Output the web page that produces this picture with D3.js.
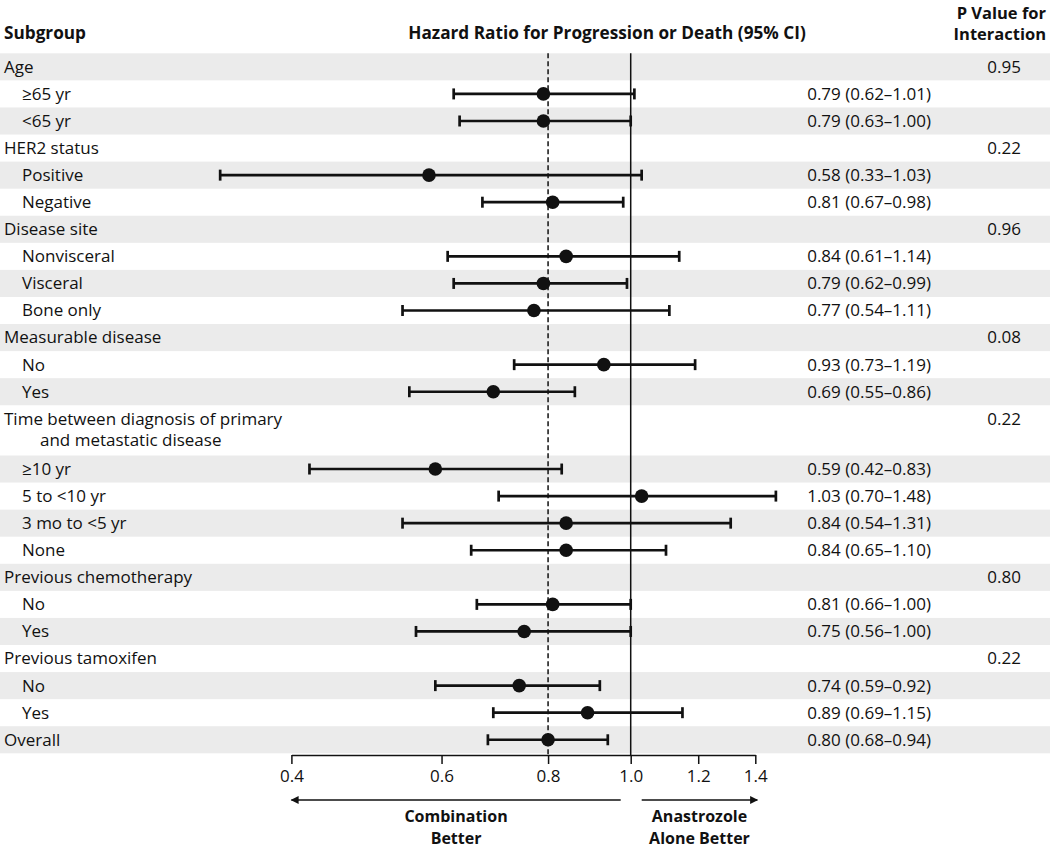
<!DOCTYPE html>
<html>
<head>
<meta charset="utf-8">
<script src="https://cdn.jsdelivr.net/npm/d3@7"></script>
<style>
  html, body { margin: 0; padding: 0; background: #fff; }
  svg { display: block; }
  text { font-family: "Open Sans", "Noto Sans", sans-serif; fill: #111; }
</style>
</head>
<body>
<svg id="chart" width="1050" height="849"></svg>
<script>
// ---------------- data ----------------
const labels = [
  "Age", "≥65 yr", "<65 yr",
  "HER2 status", "Positive", "Negative",
  "Disease site", "Nonvisceral", "Visceral", "Bone only",
  "Measurable disease", "No", "Yes",
  "Time between diagnosis of primary|and metastatic disease",
  "≥10 yr", "5 to <10 yr", "3 mo to <5 yr", "None",
  "Previous chemotherapy", "No", "Yes",
  "Previous tamoxifen", "No", "Yes",
  "Overall"
];
const levels = [0,1,1, 0,1,1, 0,1,1,1, 0,1,1, 0, 1,1,1,1, 0,1,1, 0,1,1, 0];
const hr     = [null,0.79,0.79, null,0.58,0.81, null,0.84,0.79,0.77, null,0.93,0.69, null, 0.59,1.03,0.84,0.84, null,0.81,0.75, null,0.74,0.89, 0.80];
const lower  = [null,0.62,0.63, null,0.33,0.67, null,0.61,0.62,0.54, null,0.73,0.55, null, 0.42,0.70,0.54,0.65, null,0.66,0.56, null,0.59,0.69, 0.68];
const upper  = [null,1.01,1.00, null,1.03,0.98, null,1.14,0.99,1.11, null,1.19,0.86, null, 0.83,1.48,1.31,1.10, null,1.00,1.00, null,0.92,1.15, 0.94];
const pInteraction = ["0.95",null,null, "0.22",null,null, "0.96",null,null,null, "0.08",null,null, "0.22", null,null,null,null, "0.80",null,null, "0.22",null,null, null];
const rowUnits = labels.map(l => l.includes("|") ? 1.855 : 1);
const tickValues = [0.4, 0.6, 0.8, 1.0, 1.2, 1.4];
const overallHR = 0.80;

// ---------------- layout ----------------
const svg = d3.select("#chart");
const x = d3.scaleLog().domain([0.4, 1.4]).range([291.4, 755.3]);
const cum = [0];
rowUnits.forEach((u, i) => cum.push(cum[i] + u));
const y = d3.scaleLinear().domain([0, cum[cum.length - 1]]).range([53.3, 753.3]);
const rows = labels.map((l, i) => ({
  lines: l.split("|"), level: levels[i], hr: hr[i], lo: lower[i], hi: upper[i], p: pInteraction[i],
  top: y(cum[i]), bottom: y(cum[i + 1]), mid: y(cum[i] + 0.5), i
}));
const fs = 17;
const bfs = 17.2;

// shading
svg.append("g").selectAll("rect").data(rows.filter(r => r.i % 2 === 0)).join("rect")
  .attr("x", 0).attr("width", 1050)
  .attr("y", r => r.top).attr("height", r => r.bottom - r.top)
  .attr("fill", "#ebebeb");

// headers
svg.append("text").attr("x", 4).attr("y", 39).attr("font-size", bfs).attr("font-weight", 700).text("Subgroup");
svg.append("text").attr("x", 607).attr("y", 39).attr("text-anchor", "middle").attr("font-size", bfs).attr("font-weight", 700)
  .text("Hazard Ratio for Progression or Death (95% CI)");
svg.append("text").attr("x", 1046).attr("y", 18.5).attr("text-anchor", "end").attr("font-size", 16.5).attr("font-weight", 700).text("P Value for");
svg.append("text").attr("x", 1046).attr("y", 39.5).attr("text-anchor", "end").attr("font-size", 16.5).attr("font-weight", 700).text("Interaction");

// reference lines
const plotTop = y(0), plotBottom = 755;
svg.append("line").attr("x1", x(1)).attr("x2", x(1)).attr("y1", plotTop).attr("y2", plotBottom)
  .attr("stroke", "#111").attr("stroke-width", 1.5);
svg.append("line").attr("x1", x(overallHR)).attr("x2", x(overallHR)).attr("y1", plotTop).attr("y2", plotBottom)
  .attr("stroke", "#111").attr("stroke-width", 1.5).attr("stroke-dasharray", "5,3");

// labels
const lab = svg.append("g").selectAll("g").data(rows).join("g");
lab.each(function(r) {
  const g = d3.select(this);
  r.lines.forEach((t, k) => {
    g.append("text")
      .attr("x", r.level === 0 ? (k === 0 ? 4 : 40) : 22)
      .attr("y", r.top + 13.5 + k * 21)
      .attr("dy", "0.35em").attr("font-size", fs).text(t);
  });
  if (r.p) {
    g.append("text").attr("x", 1021).attr("y", r.top + 13.5).attr("dy", "0.35em")
      .attr("text-anchor", "end").attr("font-size", fs).text(r.p);
  }
  if (r.hr != null) {
    g.append("text").attr("x", 931).attr("y", r.mid).attr("dy", "0.35em")
      .attr("text-anchor", "end").attr("font-size", fs)
      .text(`${r.hr.toFixed(2)} (${r.lo.toFixed(2)}–${r.hi.toFixed(2)})`);
  }
});

// CI whiskers and points
const est = rows.filter(r => r.hr != null);
const eg = svg.append("g");
eg.selectAll("line.ci").data(est).join("line").attr("class", "ci")
  .attr("x1", r => x(r.lo)).attr("x2", r => x(r.hi)).attr("y1", r => r.mid).attr("y2", r => r.mid)
  .attr("stroke", "#111").attr("stroke-width", 2.7);
eg.selectAll("line.capl").data(est).join("line").attr("class", "capl")
  .attr("x1", r => x(r.lo)).attr("x2", r => x(r.lo)).attr("y1", r => r.mid - 5.5).attr("y2", r => r.mid + 5.5)
  .attr("stroke", "#111").attr("stroke-width", 2.7);
eg.selectAll("line.caph").data(est).join("line").attr("class", "caph")
  .attr("x1", r => x(r.hi)).attr("x2", r => x(r.hi)).attr("y1", r => r.mid - 5.5).attr("y2", r => r.mid + 5.5)
  .attr("stroke", "#111").attr("stroke-width", 2.7);
eg.selectAll("circle").data(est).join("circle")
  .attr("cx", r => x(r.hr)).attr("cy", r => r.mid).attr("r", 6.8).attr("fill", "#111");

// axis
const axis = svg.append("g").attr("transform", `translate(0,${plotBottom})`)
  .call(d3.axisBottom(x).tickValues(tickValues).tickFormat(d3.format(".1f")).tickSizeInner(9).tickSizeOuter(0).tickPadding(6));
axis.select(".domain").attr("stroke", "#111").attr("stroke-width", 1.5);
axis.selectAll(".tick line").attr("stroke", "#111").attr("stroke-width", 1.5);
axis.selectAll(".tick text").attr("font-size", fs).attr("font-family", "Open Sans, Noto Sans, sans-serif").attr("fill", "#111");

// arrows
const ay = 800;
const defs = svg.append("defs");
defs.append("marker").attr("id", "ah").attr("viewBox", "0 0 10 10").attr("refX", 9).attr("refY", 5)
  .attr("markerWidth", 12).attr("markerHeight", 8).attr("markerUnits", "userSpaceOnUse").attr("orient", "auto")
  .append("path").attr("d", "M0,0 L10,5 L0,10 Z").attr("fill", "#111");
svg.append("line").attr("x1", x(1) - 10).attr("x2", x(0.4)).attr("y1", ay).attr("y2", ay)
  .attr("stroke", "#111").attr("stroke-width", 1.5).attr("marker-end", "url(#ah)");
svg.append("line").attr("x1", x(1) + 11).attr("x2", x(1.4) + 2).attr("y1", ay).attr("y2", ay)
  .attr("stroke", "#111").attr("stroke-width", 1.5).attr("marker-end", "url(#ah)");
const leftMid = (x(0.4) + x(1) - 10) / 2, rightMid = (x(1) + 11 + x(1.4) + 2) / 2;
[["Combination", "Better", leftMid], ["Anastrozole", "Alone Better", rightMid]].forEach(([a, b, cx]) => {
  svg.append("text").attr("x", cx).attr("y", 822).attr("text-anchor", "middle").attr("font-size", 16).attr("font-weight", 700).text(a);
  svg.append("text").attr("x", cx).attr("y", 844).attr("text-anchor", "middle").attr("font-size", 16).attr("font-weight", 700).text(b);
});
</script>
</body>
</html>
